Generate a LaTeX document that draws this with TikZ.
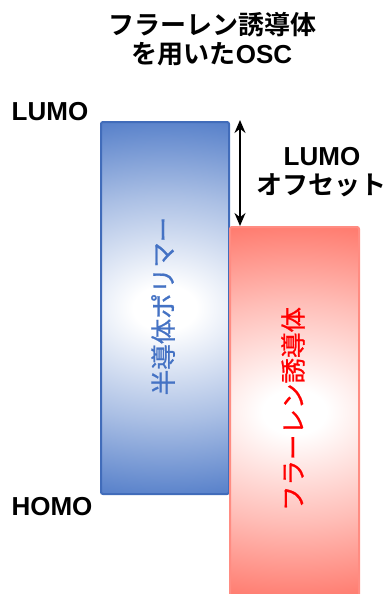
\documentclass[tikz,border=0pt]{standalone}
\usepackage{fontspec}
\setmainfont{Liberation Sans}
\newfontfamily\jpb{Noto Sans CJK JP Bold}
\newfontfamily\jpm[FakeBold=0.8]{Noto Sans CJK JP}
\usetikzlibrary{arrows.meta}
\definecolor{bandblue}{RGB}{68,114,196}
\definecolor{bandred}{RGB}{255,108,94}
\definecolor{rededge}{RGB}{255,140,130}
\definecolor{redtext}{RGB}{255,0,0}
\pgfdeclareradialshading{blueglow}{\pgfpoint{0bp}{0bp}}{color(0bp)=(white); color(3bp)=(white); color(15bp)=(bandblue!45!white); color(28bp)=(bandblue); color(75bp)=(bandblue)}
\pgfdeclareradialshading{redglow}{\pgfpoint{0bp}{0bp}}{color(0bp)=(white); color(3bp)=(white); color(15bp)=(bandred!45!white); color(28bp)=(bandred); color(75bp)=(bandred)}
\tikzset{
  lbl/.style={font=\bfseries\fontsize{26}{28}\selectfont, text=black, inner sep=0pt},
  jptitle/.style={font=\jpb\fontsize{26}{28}\selectfont, inner sep=0pt},
  band/.style 2 args={draw=#1, line width=2pt, rounded corners=2pt, inner sep=0pt, anchor=north west,
    path picture={\shade[shading=#2] ([xshift=-200pt]path picture bounding box.north west) rectangle ([xshift=200pt]path picture bounding box.south east);}},
  vlabel/.style={rotate=90, text=#1, font=\jpm\fontsize{25.5}{27}\selectfont, inner sep=0pt},
}
\begin{document}
\begin{tikzpicture}[x=1pt,y=-1pt]
\useasboundingbox (0,0) rectangle (390,594);
% bands
\node[band={bandblue!95!black}{blueglow}, minimum width=128pt, minimum height=372pt] (poly) at (100,121) {};
\node[band={rededge}{redglow}, minimum width=129pt, minimum height=370pt] (ful) at (229,226) {};
% band labels
\node[vlabel=bandblue] (polylbl) at (163,306) {半導体ポリマー};
\node[vlabel=redtext] (fullbl) at (293,409) {フラーレン誘導体};
% title
\node[jptitle] (t1) at (212,25) {フラーレン誘導体};
\node[jptitle] (t2) at (212,54) {を用いた{\bfseries\rmfamily OSC}};
% levels
\node[lbl] (lumo) at (50,112) {LUMO};
\node[lbl] (homo) at (52,507) {HOMO};
\node[lbl] (olumo) at (322,157) {LUMO};
\node[jptitle] (ooff) at (321,185) {オフセット};
% offset arrow
\coordinate (a1) at (240,120);
\coordinate (a2) at (240,226);
\draw[line width=1.6pt, {Stealth[length=13pt,width=11pt]}-{Stealth[length=13pt,width=11pt]}] (a1) -- (a2);
\end{tikzpicture}
\end{document}
